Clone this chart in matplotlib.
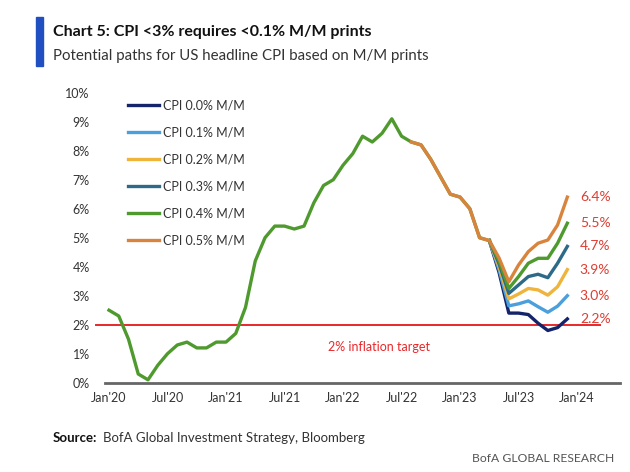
import numpy as np
import matplotlib.pyplot as plt

# Lato is the narrowest installed sans, closest to the house font
plt.rcParams['font.family'] = ['Lato', 'DejaVu Sans']

# US headline CPI Y/Y, Jan'20 .. Apr'23
history = [2.5, 2.3, 1.5, 0.3, 0.1, 0.6, 1.0, 1.3, 1.4, 1.2, 1.2, 1.4,
           1.4, 1.7, 2.6, 4.2, 5.0, 5.4, 5.4, 5.3, 5.4, 6.2, 6.8, 7.0,
           7.5, 7.9, 8.5, 8.3, 8.6, 9.1, 8.5, 8.3, 8.2, 7.7, 7.1, 6.5,
           6.4, 6.0, 5.0, 4.9]

# scenario paths, May'23 .. Dec'23
scen_labels = ['CPI 0.0% M/M', 'CPI 0.1% M/M', 'CPI 0.2% M/M',
               'CPI 0.3% M/M', 'CPI 0.4% M/M', 'CPI 0.5% M/M']
scen_00 = [3.8, 2.4, 2.4, 2.35, 2.05, 1.8, 1.9, 2.2]
scen_01 = [3.9, 2.65, 2.72, 2.82, 2.62, 2.43, 2.64, 3.0]
scen_02 = [4.0, 2.89, 3.06, 3.25, 3.2, 3.02, 3.31, 3.9]
scen_03 = [4.1, 3.08, 3.37, 3.66, 3.74, 3.62, 4.12, 4.7]
scen_04 = [4.2, 3.25, 3.66, 4.12, 4.29, 4.29, 4.81, 5.5]
scen_05 = [4.3, 3.48, 4.06, 4.52, 4.81, 4.92, 5.44, 6.4]
scenarios = [scen_00, scen_01, scen_02, scen_03, scen_04, scen_05]
end_labels = ['2.2%', '3.0%', '3.9%', '4.7%', '5.5%', '6.4%']

tick_labels = ["Jan'20", "Jul'20", "Jan'21", "Jul'21", "Jan'22",
               "Jul'22", "Jan'23", "Jul'23", "Jan'24"]
target = 2.0

colors = ['#14246b', '#4a9fdc', '#eeb43c', '#2d6a88', '#4f9a2e', '#d9843c']
red = '#e8282b'
lw = 2.4

fig = plt.figure(figsize=(6.3, 4.72), dpi=100)
ax = fig.add_axes([105 / 630, 1 - 382.7 / 472, 515 / 630, 290 / 472])

n_hist = len(history)
x_hist = np.arange(n_hist)
x_scen = np.arange(n_hist - 1, n_hist + len(scen_00))
orange_start = 31  # orange path drawn from Aug'22

# target line, running slightly past the axes on the left
ax.plot([-1.35, 50.3], [target, target], color=red, lw=1.4, clip_on=False, zorder=2)
ax.text(27.7, 1.24, '2% inflation target', color=red, fontsize=9, ha='center', va='center')

ax.plot(x_hist, history, color=colors[4], lw=lw, solid_joinstyle='round', zorder=3)
for i, (vals, c, lab) in enumerate(zip(scenarios, colors, scen_labels)):
    y = [history[-1]] + vals
    if i == 5:
        xs = np.concatenate([np.arange(orange_start, n_hist - 1), x_scen])
        y = history[orange_start:-1] + y
    else:
        xs = x_scen
    ax.plot(xs, y, color=c, lw=lw, label=lab, solid_joinstyle='round', zorder=4 + i)
    ax.annotate(end_labels[i], (xs[-1], y[-1]), xytext=(9, 0), textcoords='offset points',
                color='#e03c31', fontsize=10, va='center', ha='left', annotation_clip=False)

ax.set_xlim(-0.41, 52.4)
ax.set_ylim(0, 10)
ax.set_yticks(range(0, 11))
ax.set_yticklabels([f'{v}%' for v in range(0, 11)])
ax.set_xticks(range(0, 49, 6))
ax.set_xticklabels(tick_labels)
ax.tick_params(length=0, labelsize=9, colors='#333333')
ax.tick_params(axis='y', pad=11)
ax.tick_params(axis='x', pad=7)
for s in ['top', 'right', 'left']:
    ax.spines[s].set_visible(False)
ax.spines['bottom'].set_color('#666666')
ax.spines['bottom'].set_linewidth(2)

leg = ax.legend(loc='upper left', bbox_to_anchor=(0.045, 0.978), frameon=False,
                fontsize=9, labelspacing=1.2, handlelength=2.5, handletextpad=0.25,
                borderpad=0, borderaxespad=0)
for t in leg.get_texts():
    t.set_color('#333333')

# header
fig.patches.append(plt.Rectangle((36 / 630, 1 - 66 / 472), 7 / 630, 49 / 472,
                                 transform=fig.transFigure, color='#1f4fc1'))
fig.text(53 / 630, 1 - 32 / 472, 'Chart 5: CPI <3% requires <0.1% M/M prints',
         fontsize=11.5, fontweight='bold', color='#111111', va='center')
fig.text(53 / 630, 1 - 56 / 472, 'Potential paths for US headline CPI based on M/M prints',
         fontsize=10.8, color='#333333', va='center')

# footer: bold "Source:" followed by the plain text
src = fig.text(53 / 630, 1 - 438 / 472, 'Source:', fontsize=9.5, fontweight='bold',
               color='#111111', va='center')
fig.canvas.draw()
bb = src.get_window_extent()
fig.text((bb.x1 + 6) / 630, 1 - 438 / 472, 'BofA Global Investment Strategy, Bloomberg',
         fontsize=9.5, color='#333333', va='center')
fig.text(614 / 630, 1 - 458 / 472, 'BofA GLOBAL RESEARCH', fontsize=8.7,
         color='#555555', va='center', ha='right')

fig.savefig('out.png', dpi=100)
